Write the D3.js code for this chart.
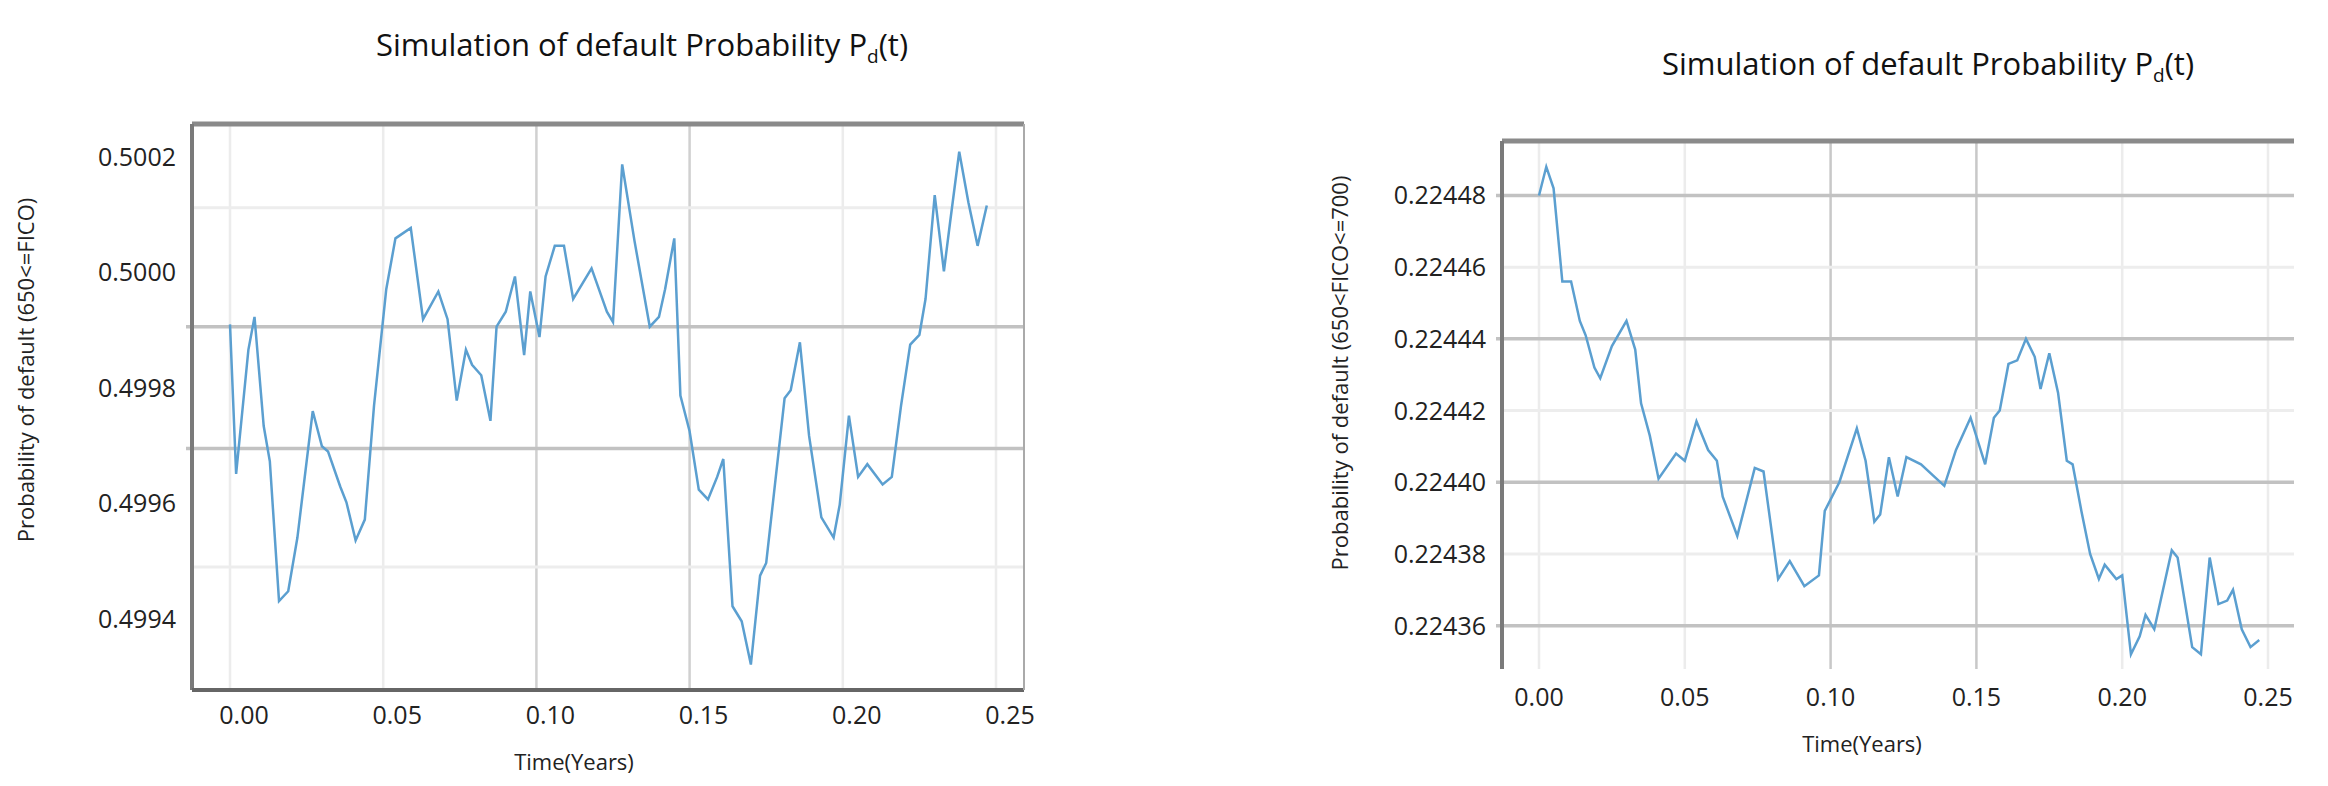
<!DOCTYPE html>
<html lang="en">
<head>
<meta charset="utf-8">
<title>Simulation of default Probability</title>
<script src="https://d3js.org/d3.v7.min.js"></script>
<style>
  body{margin:0;background:#fff;font-family:"Open Sans",sans-serif;}
</style>
</head>
<body>
<div id="chart"></div>
<script>
// left panel: 650<=FICO
var leftT = [0.000,0.002,0.006,0.008,0.011,0.013,0.016,0.019,0.022,0.027,0.030,0.032,0.036,0.038,0.041,0.044,0.047,0.051,0.054,0.059,0.063,0.068,0.071,0.074,0.077,0.079,0.082,0.085,0.087,0.090,0.093,0.096,0.098,0.101,0.103,0.106,0.109,0.112,0.118,0.123,0.125,0.128,0.132,0.137,0.140,0.142,0.145,0.147,0.150,0.153,0.156,0.159,0.161,0.164,0.167,0.170,0.173,0.175,0.181,0.183,0.186,0.189,0.193,0.197,0.199,0.202,0.205,0.208,0.213,0.216,0.219,0.222,0.225,0.227,0.230,0.233,0.235,0.238,0.241,0.244,0.247]
var leftP = [0.49991,0.499651,0.499866,0.499923,0.499734,0.499673,0.499431,0.499448,0.499541,0.49976,0.499699,0.49969,0.499629,0.499602,0.499536,0.499572,0.499769,0.499971,0.500059,0.500077,0.499919,0.499967,0.499919,0.499778,0.499866,0.49984,0.499822,0.499743,0.499906,0.499932,0.499993,0.499857,0.499967,0.499888,0.499993,0.500046,0.500046,0.499954,0.500007,0.499932,0.499914,0.500187,0.500055,0.499906,0.499923,0.499971,0.500059,0.499787,0.499725,0.499624,0.499607,0.499646,0.499677,0.499422,0.499396,0.499321,0.499475,0.499497,0.499782,0.499796,0.499879,0.499717,0.499576,0.499541,0.499598,0.499752,0.499646,0.499668,0.499633,0.499646,0.499769,0.499875,0.499892,0.499954,0.500134,0.500002,0.500086,0.500209,0.500121,0.500046,0.500116]
var leftYTicks = [0.4994,0.4996,0.4998,0.5000,0.5002]
var leftGridDark = [0.499906,0.499695]
var leftGridLight = [0.500112,0.49949]

// right panel: 650<FICO<=700
var rightT = [0.000,0.0025,0.005,0.008,0.011,0.014,0.016,0.019,0.021,0.025,0.030,0.033,0.035,0.038,0.041,0.047,0.050,0.054,0.058,0.061,0.063,0.068,0.074,0.077,0.082,0.086,0.091,0.096,0.098,0.103,0.109,0.112,0.115,0.117,0.120,0.123,0.126,0.131,0.135,0.139,0.143,0.148,0.153,0.156,0.158,0.161,0.164,0.167,0.170,0.172,0.175,0.178,0.181,0.183,0.186,0.189,0.192,0.194,0.198,0.200,0.203,0.206,0.208,0.211,0.217,0.219,0.224,0.227,0.230,0.233,0.236,0.238,0.241,0.244,0.247]
var rightP = [0.22448,0.224488,0.224482,0.224456,0.224456,0.224445,0.224441,0.224432,0.224429,0.224438,0.224445,0.224437,0.224422,0.224413,0.224401,0.224408,0.224406,0.224417,0.224409,0.224406,0.224396,0.224385,0.224404,0.224403,0.224373,0.224378,0.224371,0.224374,0.224392,0.2244,0.224415,0.224406,0.224389,0.224391,0.224407,0.224396,0.224407,0.224405,0.224402,0.224399,0.224409,0.224418,0.224405,0.224418,0.22442,0.224433,0.224434,0.22444,0.224435,0.224426,0.224436,0.224425,0.224406,0.224405,0.224392,0.22438,0.224373,0.224377,0.224373,0.224374,0.224352,0.224357,0.224363,0.224359,0.224381,0.224379,0.224354,0.224352,0.224379,0.224366,0.224367,0.22437,0.224359,0.224354,0.224356]
var rightYTicks = [0.22436,0.22438,0.22440,0.22442,0.22444,0.22446,0.22448]
var rightGridDark = [0.22436,0.22440,0.22444,0.22448]
var rightGridLight = [0.22438,0.22442,0.22446]

var xTicks = [0.00,0.05,0.10,0.15,0.20,0.25]

var W = 2328, H = 786
var svg = d3.select("#chart").append("svg").attr("width", W).attr("height", H)

function panel(o){
    var g = svg.append("g")
    var x = d3.scaleLinear().domain([0, 0.25]).range([o.x0, o.x25])
    var y = d3.scaleLinear().domain(o.ydom).range([o.bottom, o.top])

    // vertical grid
    g.selectAll(".vg").data(xTicks).enter().append("line")
        .attr("x1", d => x(d)).attr("x2", d => x(d))
        .attr("y1", o.top).attr("y2", o.bottom)
        .attr("stroke", (d, i) => (i == 2 || i == 3) ? o.vDark : "#ececec").attr("stroke-width", 2.5)
    g.selectAll(".hl").data(o.gridLight).enter().append("line")
        .attr("x1", o.left).attr("x2", o.right)
        .attr("y1", d => y(d)).attr("y2", d => y(d))
        .attr("stroke", "#ededed").attr("stroke-width", 3)
    g.selectAll(".hd").data(o.gridDark).enter().append("line")
        .attr("x1", o.left - 6).attr("x2", o.right)
        .attr("y1", d => y(d)).attr("y2", d => y(d))
        .attr("stroke", "#c2c2c2").attr("stroke-width", 3.5)

    // frame
    g.append("line").attr("x1", o.left).attr("x2", o.right).attr("y1", o.top).attr("y2", o.top)
        .attr("stroke", "#8a8a8a").attr("stroke-width", 5)
    g.append("line").attr("x1", o.left).attr("x2", o.left).attr("y1", o.top).attr("y2", o.bottom)
        .attr("stroke", "#7a7a7a").attr("stroke-width", 4)
    if (o.box) {
        g.append("line").attr("x1", o.left).attr("x2", o.right).attr("y1", o.bottom).attr("y2", o.bottom)
            .attr("stroke", "#666").attr("stroke-width", 4)
        g.append("line").attr("x1", o.right).attr("x2", o.right).attr("y1", o.top).attr("y2", o.bottom)
            .attr("stroke", "#aaa").attr("stroke-width", 2)
    }

    // series
    var pts = o.t.map((t, i) => [t, o.p[i]])
    g.append("path").datum(pts)
        .attr("fill", "none").attr("stroke", "#5b9fd0").attr("stroke-width", 2.5)
        .attr("d", d3.line().x(d => x(d[0])).y(d => y(d[1])))

    // tick labels
    g.selectAll(".yt").data(o.yticks).enter().append("text")
        .attr("x", o.left - 16).attr("y", d => y(d) + 9)
        .attr("text-anchor", "end").attr("font-size", 25).attr("fill", "#222")
        .text(d => d3.format(o.yfmt)(d))
    g.selectAll(".xt").data(xTicks).enter().append("text")
        .attr("x", d => x(d) + o.xshift).attr("y", o.xlabY)
        .attr("text-anchor", "middle").attr("font-size", 25).attr("fill", "#222")
        .text(d => d3.format(".2f")(d))

    g.append("text").attr("x", o.titleX).attr("y", o.titleY)
        .attr("text-anchor", "middle").attr("font-size", 31).attr("fill", "#111")
        .html('Simulation of default Probability P<tspan font-size="19" dy="7">d</tspan><tspan dy="-7">(t)</tspan>')
    g.append("text").attr("x", o.xTitleX).attr("y", o.xTitleY)
        .attr("text-anchor", "middle").attr("font-size", 22).attr("fill", "#222")
        .text("Time(Years)")
    g.append("text")
        .attr("transform", "translate(" + o.yTitleX + "," + o.yTitleY + ") rotate(-90)")
        .attr("text-anchor", "middle").attr("font-size", 22).attr("fill", "#222")
        .text(o.ylabel)
}

panel({left:192, right:1024, top:124, bottom:690, x0:230, x25:996, ydom:[0.499277,0.500257],
    t:leftT, p:leftP, yticks:leftYTicks, gridDark:leftGridDark, gridLight:leftGridLight, yfmt:".4f",
    box:true, xshift:14, xlabY:724, titleX:642, titleY:56, xTitleX:574, xTitleY:770, vDark:"#d0d0d0",
    yTitleX:34, yTitleY:370, ylabel:"Probability of default (650<=FICO)"})

panel({left:1502, right:2294, top:141, bottom:669, x0:1539, x25:2268, ydom:[0.2243479,0.2244952],
    t:rightT, p:rightP, yticks:rightYTicks, gridDark:rightGridDark, gridLight:rightGridLight, yfmt:".5f",
    box:false, xshift:0, xlabY:706, titleX:1928, titleY:75, xTitleX:1862, xTitleY:752, vDark:"#c8c8c8",
    yTitleX:1348, yTitleY:373, ylabel:"Probability of default (650<FICO<=700)"})
</script>
</body>
</html>
